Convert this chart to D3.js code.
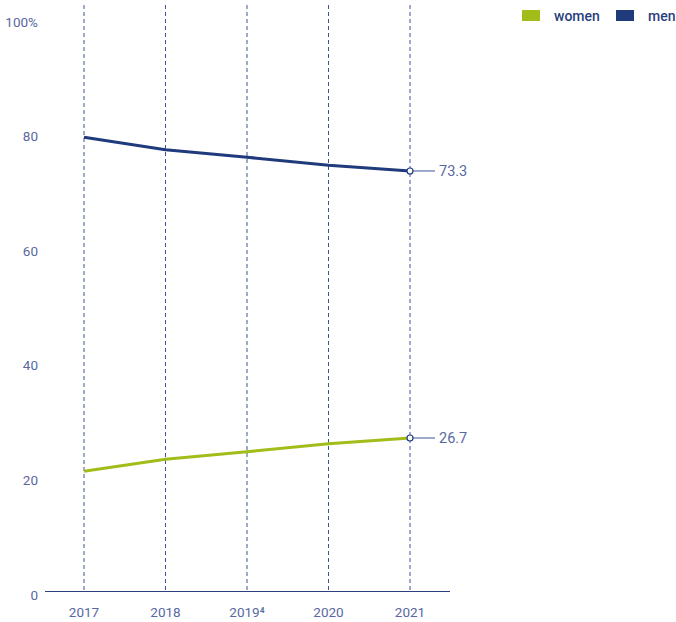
<!DOCTYPE html>
<html><head><meta charset="utf-8">
<script src="https://cdn.jsdelivr.net/npm/d3@7"></script>
<style>body{margin:0;background:#fff}svg{display:block}text{font-family:Roboto,"Noto Sans",sans-serif}</style>
</head><body>
<svg id="c" width="676" height="622"></svg>
<script>
const years = ["2017","2018","2019","2020","2021"];
const yearLabels = ["2017","2018","2019⁴","2020","2021"];
const men = [79.2, 77.0, 75.7, 74.3, 73.3];
const women = [20.9, 23.0, 24.3, 25.7, 26.7];
const yTicks = [0,20,40,60,80,100];
const seriesNames = ["women","men"];
const colors = {women:"#a2bd1a", men:"#1f3b7c"};
const txt = "#5868a0";

const svg = d3.select("#c");
const x = d3.scalePoint().domain(years).range([84,410]);
const y = d3.scaleLinear().domain([0,100]).range([591,18]);

// vertical dashed grid
svg.selectAll(".g").data(years).enter().append("line")
  .attr("x1",d=>x(d)).attr("x2",d=>x(d)).attr("y1",5).attr("y2",591)
  .attr("stroke","#3d5596").attr("stroke-width",1).attr("stroke-dasharray","4,3");

// x axis
svg.append("line").attr("x1",45).attr("x2",450).attr("y1",591.5).attr("y2",591.5)
  .attr("stroke","#2a3f7e").attr("stroke-width",1.2);
svg.selectAll(".xl").data(years).enter().append("text")
  .attr("x",d=>x(d)).attr("y",617).attr("text-anchor","middle")
  .attr("font-size",13.5).attr("fill",txt).text((d,i)=>yearLabels[i]);

// y labels
svg.selectAll(".yl").data(yTicks).enter().append("text")
  .attr("x",38).attr("y",d=>y(d)+8.5).attr("text-anchor","end")
  .attr("font-size",13.5).attr("fill",txt).text(d=>d===100?"100%":d);

const line = d3.line().x((d,i)=>x(years[i])).y(d=>y(d));
[["women",women],["men",men]].forEach(([n,vals])=>{
  svg.append("path").attr("d",line(vals)).attr("fill","none")
    .attr("stroke",colors[n]).attr("stroke-width",3);
  const last = vals[vals.length-1];
  const px = x(years[years.length-1]), py = y(last);
  svg.append("line").attr("x1",px).attr("x2",435).attr("y1",py).attr("y2",py)
    .attr("stroke","#3d5596").attr("stroke-width",1);
  svg.append("circle").attr("cx",px).attr("cy",py).attr("r",3)
    .attr("fill","#fff").attr("stroke","#1f3b7c").attr("stroke-width",1.2);
  svg.append("text").attr("x",439).attr("y",py+5).attr("font-size",14.5)
    .attr("fill",txt).text(last.toFixed(1));
});

// legend
const lg = [{n:"women",x:522},{n:"men",x:616}];
lg.forEach(l=>{
  svg.append("rect").attr("x",l.x).attr("y",10).attr("width",18).attr("height",11).attr("fill",colors[l.n]);
  svg.append("text").attr("x",l.x+32).attr("y",20.5).attr("font-size",14).attr("font-weight",500)
    .attr("fill","#2a3f7e").text(l.n);
});
</script>
</body></html>
